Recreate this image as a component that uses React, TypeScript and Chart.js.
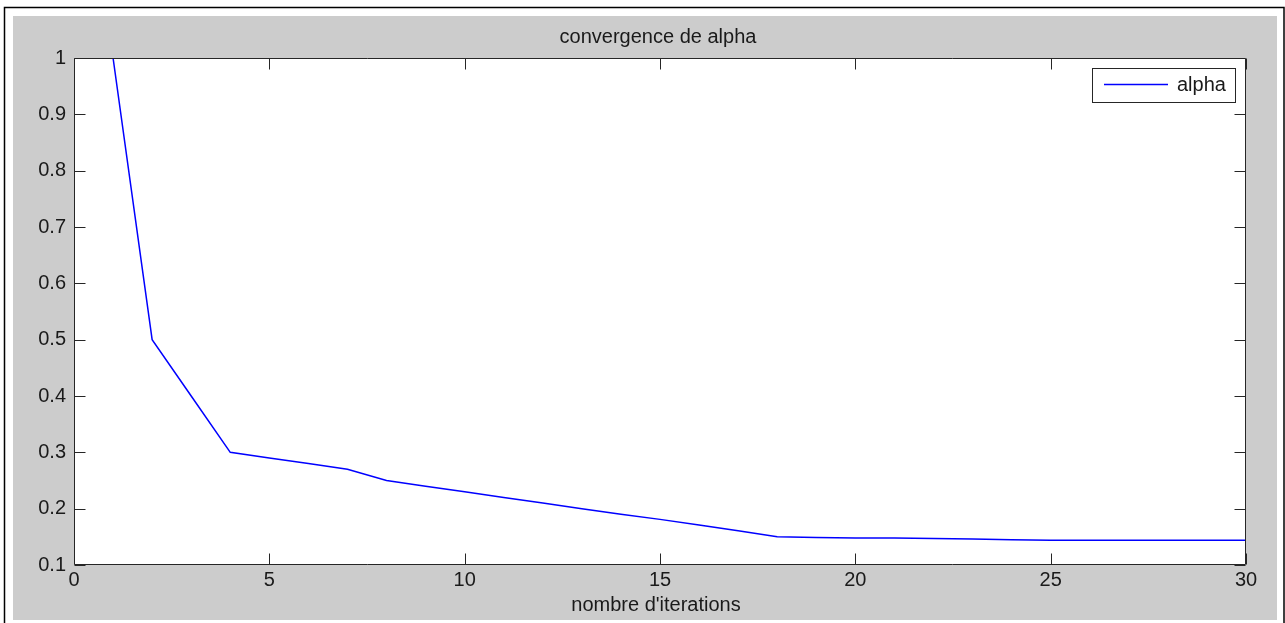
import React, { useEffect, useRef } from "react";
import { Chart, registerables } from "chart.js";

Chart.register(...registerables);

const iterations = [1, 2, 3, 4, 5, 6, 7, 8, 9, 10, 11, 12, 13, 14, 15, 16, 17, 18, 19, 20, 21, 22, 23, 24, 25, 26, 27, 28, 29, 30];
const alphaValues = [1.0, 0.5, 0.4, 0.3, 0.29, 0.28, 0.27, 0.25, 0.24, 0.23, 0.22, 0.21, 0.2, 0.19, 0.181, 0.171, 0.161, 0.15, 0.149, 0.148, 0.148, 0.147, 0.146, 0.145, 0.144, 0.144, 0.144, 0.144, 0.144, 0.144];
const xTicks = [0, 5, 10, 15, 20, 25, 30];
const yTicks = [0.1, 0.2, 0.3, 0.4, 0.5, 0.6, 0.7, 0.8, 0.9, 1];
const titleText = "convergence de alpha";
const xLabelText = "nombre d'iterations";
const seriesLabel = "alpha";

const FONT = '"Liberation Sans", Arial, sans-serif';
const TEXT_COLOR = "#1a1a1a";
const AXIS_COLOR = "#262626";
const FIG_BG = "#cccccc";
const LINE_COLOR = "#0000ff";

const matlabPlugin = {
  id: "matlabLook",
  beforeDraw(chart: any) {
    const { ctx, chartArea, width, height } = chart;
    ctx.save();
    ctx.fillStyle = "#ffffff";
    ctx.fillRect(0, 0, width, height);
    // window border
    ctx.strokeStyle = "#000000";
    ctx.lineWidth = 1.5;
    ctx.strokeRect(4.5, 7.5, width - 5.5, height + 10);
    // figure background
    ctx.fillStyle = FIG_BG;
    ctx.fillRect(13, 16, width - 13 - 8, height - 16 - 3);
    // axes background
    ctx.fillStyle = "#ffffff";
    ctx.fillRect(chartArea.left, chartArea.top, chartArea.right - chartArea.left, chartArea.bottom - chartArea.top);
    ctx.restore();
  },
  afterDatasetsDraw(chart: any) {
    const { ctx, chartArea } = chart;
    const xs = chart.scales.x;
    const ys = chart.scales.y;
    const L = Math.round(chartArea.left) + 0.5;
    const R = Math.round(chartArea.right) - 0.5;
    const T = Math.round(chartArea.top) + 0.5;
    const B = Math.round(chartArea.bottom) - 0.5;
    const tl = 11;
    ctx.save();
    ctx.strokeStyle = AXIS_COLOR;
    ctx.lineWidth = 1;
    ctx.beginPath();
    ctx.rect(L, T, R - L, B - T);
    for (const v of xTicks) {
      const px = Math.round(xs.getPixelForValue(v)) + 0.5;
      ctx.moveTo(px, B);
      ctx.lineTo(px, B - tl);
      ctx.moveTo(px, T);
      ctx.lineTo(px, T + tl);
    }
    for (const v of yTicks) {
      const py = Math.round(ys.getPixelForValue(v)) + 0.5;
      ctx.moveTo(L, py);
      ctx.lineTo(L + tl, py);
      ctx.moveTo(R, py);
      ctx.lineTo(R - tl, py);
    }
    ctx.stroke();

    // title
    ctx.fillStyle = TEXT_COLOR;
    ctx.font = `20px ${FONT}`;
    ctx.textAlign = "center";
    ctx.textBaseline = "middle";
    const cx = (chartArea.left + chartArea.right) / 2;
    ctx.fillText(titleText, cx - 2, 37);
    ctx.fillText(xLabelText, cx - 4, 605);

    // legend
    const boxR = Math.round(chartArea.right) - 11;
    const boxW = 143;
    const boxH = 34;
    const boxL = boxR - boxW;
    const boxT = Math.round(chartArea.top) + 10;
    ctx.fillStyle = "#ffffff";
    ctx.fillRect(boxL, boxT, boxW, boxH);
    ctx.strokeStyle = AXIS_COLOR;
    ctx.lineWidth = 1;
    ctx.strokeRect(boxL + 0.5, boxT + 0.5, boxW, boxH);
    ctx.strokeStyle = LINE_COLOR;
    ctx.lineWidth = 1.5;
    ctx.beginPath();
    ctx.moveTo(boxL + 12, boxT + 16.5);
    ctx.lineTo(boxL + 76, boxT + 16.5);
    ctx.stroke();
    ctx.fillStyle = TEXT_COLOR;
    ctx.textAlign = "left";
    ctx.textBaseline = "middle";
    ctx.fillText(seriesLabel, boxL + 85, boxT + 17);
    ctx.restore();
  },
};

export default function App() {
  const canvasRef = useRef<HTMLCanvasElement | null>(null);

  useEffect(() => {
    const canvas = canvasRef.current;
    if (!canvas) return;
    const points = iterations.map((x, i) => ({ x, y: alphaValues[i] }));
    const chart = new Chart(canvas, {
      type: "line",
      data: {
        datasets: [
          {
            label: seriesLabel,
            data: points,
            borderColor: LINE_COLOR,
            backgroundColor: LINE_COLOR,
            borderWidth: 1.5,
            pointRadius: 0,
            tension: 0,
            fill: false,
          },
        ],
      },
      options: {
        animation: false,
        responsive: false,
        devicePixelRatio: 1,
        layout: { padding: { left: 0, top: 58, right: 39, bottom: 0 } },
        plugins: {
          legend: { display: false },
          title: { display: false },
          tooltip: { enabled: false },
        },
        scales: {
          x: {
            type: "linear",
            min: 0,
            max: 30,
            afterFit: (s: any) => {
              s.height = 58;
            },
            afterBuildTicks: (s: any) => {
              s.ticks = xTicks.map((v) => ({ value: v }));
            },
            grid: { display: false, drawTicks: false },
            border: { display: false },
            ticks: {
              padding: 3,
              color: TEXT_COLOR,
              font: { family: FONT, size: 20, lineHeight: 1.2 },
              maxRotation: 0,
              autoSkip: false,
              callback: (v: any) => String(v),
            },
          },
          y: {
            type: "linear",
            min: 0.1,
            max: 1,
            afterFit: (s: any) => {
              s.width = 74;
            },
            afterBuildTicks: (s: any) => {
              s.ticks = yTicks.map((v) => ({ value: v }));
            },
            grid: { display: false, drawTicks: false },
            border: { display: false },
            ticks: {
              padding: 8,
              color: TEXT_COLOR,
              font: { family: FONT, size: 20, lineHeight: 1.2 },
              autoSkip: false,
              callback: (v: any) => String(Math.round(Number(v) * 10) / 10),
            },
          },
        },
      },
      plugins: [matlabPlugin],
    });
    return () => chart.destroy();
  }, []);

  return (
    <div style={{ position: "fixed", left: 0, top: 0, width: 1285, height: 623 }}>
      <canvas ref={canvasRef} width={1285} height={623} style={{ display: "block" }} />
    </div>
  );
}
